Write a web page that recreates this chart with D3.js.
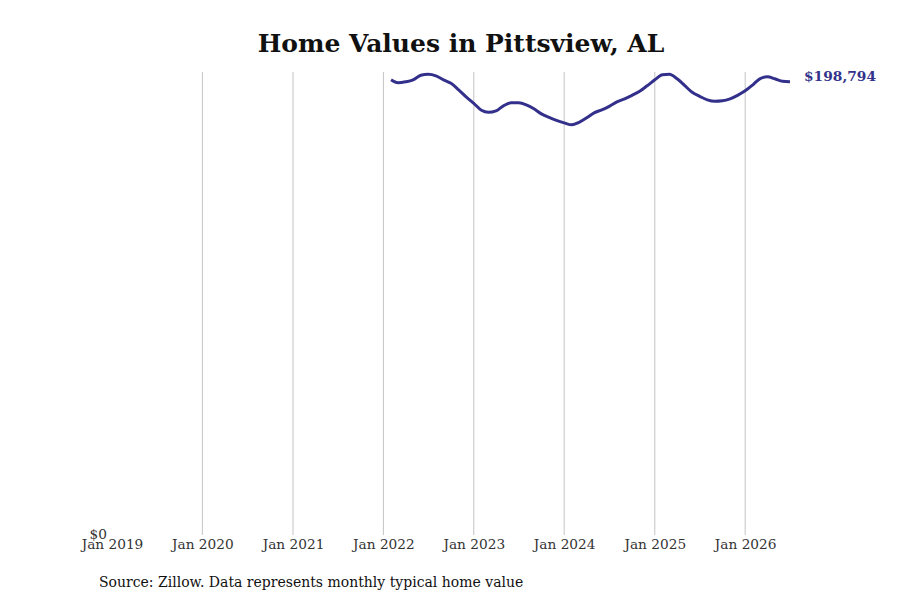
<!DOCTYPE html>
<html>
<head>
<meta charset="utf-8">
<script src="https://cdn.jsdelivr.net/npm/d3@7"></script>
<style>
  body { margin: 0; background: #fff; }
  text { font-family: "DejaVu Serif", serif; }
</style>
</head>
<body>
<div id="chart"></div>
<script>
// monthly typical home value, Feb 2022 - Jul 2026
const startMonth = "2022-02";
const values = [
  199672, 198355, 198794, 199672, 201647, 202086, 201428, 199672, 198136, 195284, 192212,
  189359, 186288, 185410, 186068, 188262, 189579, 189579, 188701, 186946, 184752, 183216, 181899,
  180802, 179924, 181021, 182996, 185190, 186507, 188043, 190018, 191334, 192870, 194626, 197040,
  199672, 201866, 202086, 200111, 197259, 194187, 192432, 190895, 190237, 190457, 191334, 192870,
  194845, 197478, 200111, 200989, 200111, 199014, 198794
];
const tickYears = [2019, 2020, 2021, 2022, 2023, 2024, 2025, 2026];

const parse = d3.timeParse("%Y-%m");
const t0 = parse(startMonth);
const data = values.map((v, i) => ({ date: d3.timeMonth.offset(t0, i), value: v }));

const W = 900, H = 600;
const margin = { top: 72, right: 110, bottom: 65, left: 112 };

const svg = d3.select("#chart").append("svg")
  .attr("width", W)
  .attr("height", H);

const x = d3.scaleTime()
  .domain([new Date(2019, 0, 1), data[data.length - 1].date])
  .range([margin.left, W - margin.right]);

const y = d3.scaleLinear()
  .domain([0, d3.max(values) * 1.005])
  .range([H - margin.bottom, margin.top]);

// title
svg.append("text")
  .attr("x", 461)
  .attr("y", 52)
  .attr("text-anchor", "middle")
  .style("font-size", "25px")
  .style("font-weight", "bold")
  .attr("fill", "#111")
  .text("Home Values in Pittsview, AL");

// vertical grid lines (none at the first tick)
const ticks = tickYears.map((yr) => new Date(yr, 0, 1));
svg.append("g")
  .selectAll("line")
  .data(ticks.slice(1))
  .enter()
  .append("line")
  .attr("x1", (d) => x(d))
  .attr("x2", (d) => x(d))
  .attr("y1", margin.top)
  .attr("y2", H - margin.bottom)
  .attr("stroke", "#c4c4c4")
  .attr("stroke-width", 1);

// x axis
const xAxis = svg.append("g")
  .attr("transform", `translate(0,${H - margin.bottom})`)
  .call(d3.axisBottom(x).tickValues(ticks).tickFormat(d3.timeFormat("Jan %Y")).tickSize(0).tickPadding(4));
xAxis.select(".domain").remove();
xAxis.selectAll("text")
  .style("font-family", "DejaVu Serif, serif")
  .style("font-size", "13.7px")
  .attr("fill", "#333");

// y axis, only $0
const yAxis = svg.append("g")
  .attr("transform", `translate(${margin.left - 5},-1)`)
  .call(d3.axisLeft(y).tickValues([0]).tickFormat((d) => "$" + d3.format(",")(d)).tickSize(0).tickPadding(0));
yAxis.select(".domain").remove();
yAxis.selectAll("text")
  .style("font-family", "DejaVu Serif, serif")
  .style("font-size", "13.7px")
  .attr("fill", "#333");

// line
const line = d3.line()
  .x((d) => x(d.date))
  .y((d) => y(d.value))
  .curve(d3.curveMonotoneX);

svg.append("path")
  .datum(data)
  .attr("fill", "none")
  .attr("stroke", "#33308c")
  .attr("stroke-width", 3)
  .attr("stroke-linejoin", "round")
  .attr("d", line);

// end label
const last = data[data.length - 1];
svg.append("text")
  .attr("x", x(last.date) + 14)
  .attr("y", y(last.value) - 1)
  .style("font-size", "13.8px")
  .style("font-weight", "bold")
  .attr("fill", "#33338b")
  .text("$" + d3.format(",")(last.value));

// source
svg.append("text")
  .attr("x", 99)
  .attr("y", 587)
  .style("font-size", "14px")
  .attr("fill", "#111")
  .text("Source: Zillow. Data represents monthly typical home value");
</script>
</body>
</html>
